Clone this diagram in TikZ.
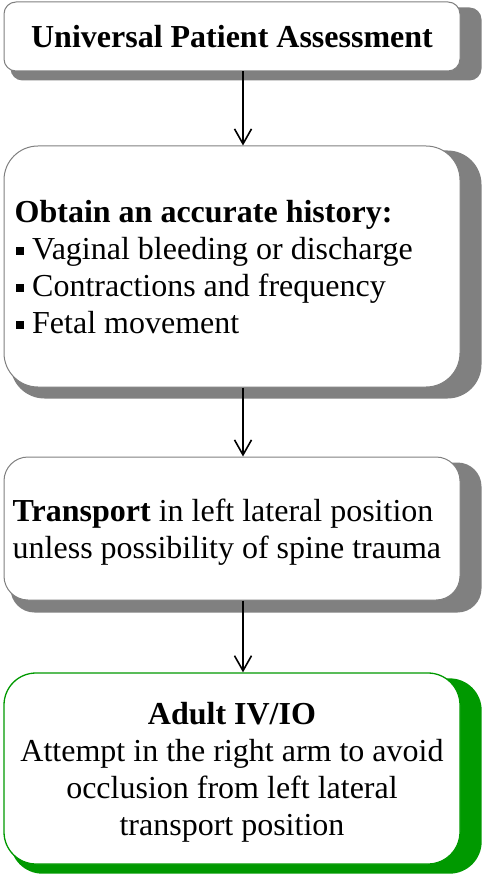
\documentclass[tikz,border=0pt]{standalone}
\usepackage{fontspec}
\setmainfont{Liberation Serif}
\usetikzlibrary{calc,arrows.meta,backgrounds}
\definecolor{shadowgray}{HTML}{808080}
\definecolor{boxgreen}{HTML}{009900}
\newcommand\sqbullet{\hspace{1pt}\rule[4.5pt]{8pt}{8pt}\hspace{8.5pt}}
\begin{document}
\begin{tikzpicture}[x=1pt,y=-1pt,
  box/.style={draw=shadowgray, line width=1pt, fill=white, inner sep=0pt,
    minimum width=456pt},
  greenbox/.style={box, draw=boxgreen, line width=1.3pt},
  txt/.style={inner sep=0pt, font=\fontsize{32}{37}\selectfont},
  flow/.style={draw=black, line width=1.6pt,
    -{Straight Barb[length=15pt,width=17pt,line width=1.6pt]}}]
\useasboundingbox (0,0) rectangle (482,877);

\coordinate (ax) at (243,0);

% boxes
\node[box, rounded corners=12pt, minimum height=69pt] (b1) at (232,36.5) {};
\node[box, rounded corners=34pt, minimum height=241pt] (b2) at (232,266.5) {};
\node[box, rounded corners=24pt, minimum height=143pt] (b3) at (232,528.5) {};
\node[greenbox, rounded corners=32pt, minimum height=191pt] (b4) at (232,768.5) {};

% box texts
\node[txt] (t1) at (b1.center) {\textbf{Universal Patient Assessment}};
\node[txt, anchor=west, align=left] (t2) at ($(b2.west)+(11,1)$)
  {\textbf{Obtain an accurate history:}\\
   \sqbullet Vaginal bleeding or discharge\\
   \sqbullet Contractions and frequency\\
   \sqbullet Fetal movement};
\node[txt, anchor=west, align=left] (t3) at ($(b3.west)+(9,3.5)$)
  {\textbf{Transport} in left lateral position\\
   unless possibility of spine trauma};
\node[txt, align=center] (t4) at ($(b4.center)+(0,4)$)
  {\textbf{Adult IV/IO}\\
   Attempt in the right arm to avoid\\
   occlusion from left lateral\\
   transport position};

% drop shadows
\begin{scope}[on background layer]
  \fill[shadowgray, rounded corners=12pt] ($(b1.north west)+(7,6)$) rectangle ($(b1.south east)+(21,9)$);
  \fill[shadowgray, rounded corners=34pt] ($(b2.north west)+(7,5)$) rectangle ($(b2.south east)+(21,11)$);
  \fill[shadowgray, rounded corners=24pt] ($(b3.north west)+(7,6)$) rectangle ($(b3.south east)+(21,12)$);
  \fill[boxgreen, rounded corners=32pt] ($(b4.north west)+(7,6)$) rectangle ($(b4.south east)+(21,9)$);
\end{scope}

% connectors
\draw[flow] (b1.south -| ax) -- (b2.north -| ax);
\draw[flow] (b2.south -| ax) -- (b3.north -| ax);
\draw[flow] (b3.south -| ax) -- (b4.north -| ax);
\end{tikzpicture}
\end{document}
